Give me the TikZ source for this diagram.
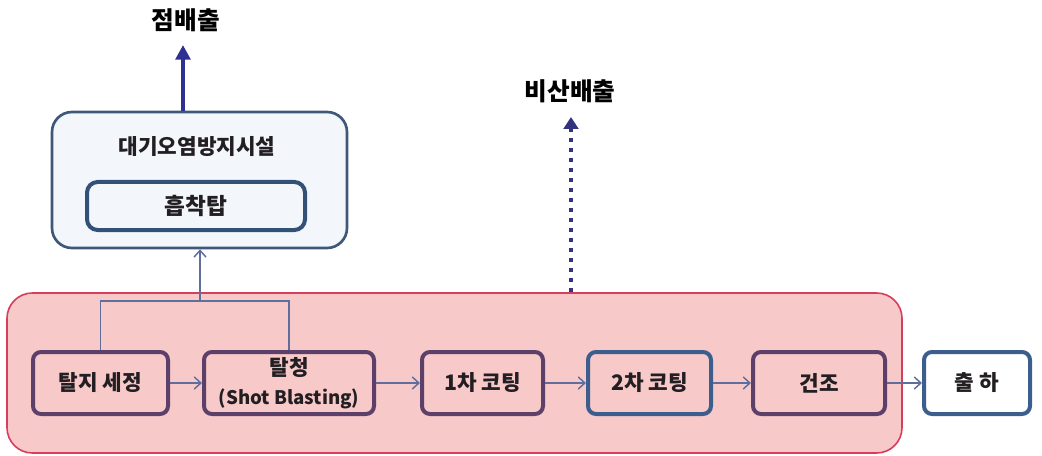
\documentclass[tikz,border=0pt]{standalone}
\usepackage{fontspec}
\setmainfont{Noto Sans CJK KR}
\usetikzlibrary{arrows.meta}
\definecolor{pinkfill}{RGB}{248,201,201}
\definecolor{pinkedge}{RGB}{214,62,92}
\definecolor{purpedge}{RGB}{92,64,106}
\definecolor{blueedge}{RGB}{60,94,140}
\definecolor{paleblue}{RGB}{243,247,251}
\definecolor{slateedge}{RGB}{62,88,122}
\definecolor{thinarrow}{RGB}{96,110,158}
\definecolor{navy}{RGB}{46,49,146}
\definecolor{dotnavy}{RGB}{50,50,125}
\definecolor{txt}{RGB}{34,30,34}
\tikzset{
  procbox/.style={draw=purpedge, line width=3pt, fill=pinkfill, rounded corners=6pt,
    font=\fontsize{16}{22}\selectfont\bfseries, text=txt, align=center, inner sep=0pt},
  bluebox/.style={procbox, draw=blueedge},
  flow/.style={draw=thinarrow, line width=1.1pt, -{Straight Barb[length=5pt,width=9pt]}},
  label/.style={font=\fontsize{18.5}{22}\selectfont\bfseries, text=black},
}
\begin{document}
\begin{tikzpicture}[x=0.75pt,y=-0.75pt]
\useasboundingbox (0,0) rectangle (1042,456);
% big pink area
\node[draw=pinkedge, line width=1.2pt, fill=pinkfill, rounded corners=19pt,
      minimum width=895*0.75pt, minimum height=160*0.75pt, inner sep=0pt] (area) at (454.5,373) {};
% air pollution prevention facility
\node[draw=slateedge, line width=2pt, fill=paleblue, rounded corners=15pt,
      minimum width=295*0.75pt, minimum height=136*0.75pt, inner sep=0pt] (outer) at (199.5,180) {};
\node[font=\fontsize{16}{18}\selectfont\bfseries, text=txt] (outerlbl) at (197,147) {대기오염방지시설};
\node[draw=blueedge!85!black, line width=3pt, fill=paleblue, rounded corners=8pt,
      minimum width=218*0.75pt, minimum height=48*0.75pt, inner sep=0pt,
      font=\fontsize{17}{18}\selectfont\bfseries, text=txt] (inner) at (196,206) {흡착탑};
% process boxes
\node[procbox, minimum width=135*0.75pt, minimum height=62*0.75pt] (p1) at (100.5,383) {탈지 세정};
\node[procbox, minimum width=170*0.75pt, minimum height=62*0.75pt] (p2) at (289,383) {탈청\\{\fontsize{14}{22}\selectfont(Shot Blasting)}};
\node[procbox, minimum width=121*0.75pt, minimum height=62*0.75pt] (p3) at (482.5,383) {1차 코팅};
\node[bluebox, minimum width=123*0.75pt, minimum height=62*0.75pt] (p4) at (649.5,383) {2차 코팅};
\node[procbox, minimum width=132*0.75pt, minimum height=62*0.75pt] (p5) at (819,383) {건조};
\node[bluebox, fill=white, minimum width=106*0.75pt, minimum height=62*0.75pt] (p6) at (977,383) {출 하};
% flow arrows
\draw[flow] (p1) -- (p2);
\draw[flow] (p2) -- (p3);
\draw[flow] (p3) -- (p4);
\draw[flow] (p4) -- (p5);
\draw[flow] (p5) -- (p6);
% collection ducts
\coordinate (junc) at (200,301);
\draw[draw=thinarrow, line width=1.1pt] (p1.north) |- (junc) -| (p2.north);
\draw[flow] (junc) -- (junc |- outer.south);
% point emission
\coordinate (top1) at (183,45);
\node[label] (pe) at (186,20) {점배출};
\draw[draw=navy, line width=3pt, -{Triangle[length=11pt,width=11pt]}] (outer.north -| top1) -- (top1);
% fugitive emission
\coordinate (top2) at (571,117);
\node[label] (fe) at (570,91) {비산배출};
\draw[draw=dotnavy, line width=3pt, dash pattern=on 3pt off 4.5pt, -{Triangle[length=9pt,width=11pt]}] (area.north -| top2) -- (top2);
\end{tikzpicture}
\end{document}
